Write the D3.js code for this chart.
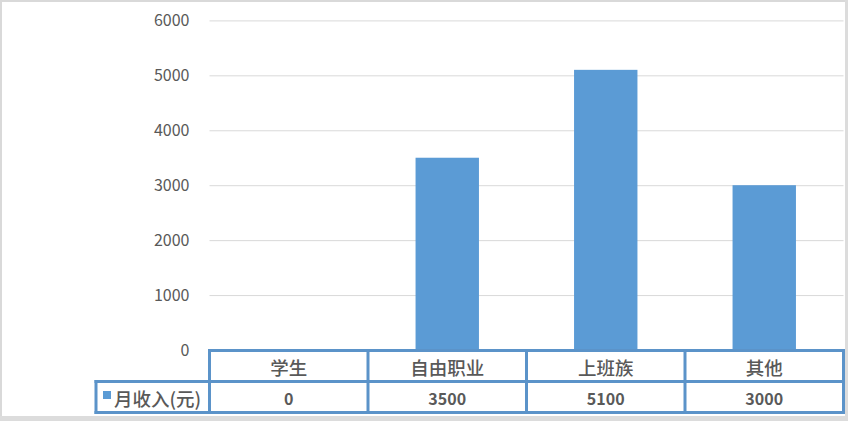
<!DOCTYPE html>
<html><head><meta charset="utf-8">
<script src="https://cdn.jsdelivr.net/npm/d3@7"></script>
<style>
html,body{margin:0;padding:0;background:#fff;overflow:hidden;}
svg{display:block;}
text{font-family:"Noto Sans CJK SC","Microsoft YaHei",sans-serif;fill:#595959;}
</style></head>
<body>
<svg id="chart" width="848" height="421"></svg>
<script>
const categories = ["学生", "自由职业", "上班族", "其他"];
const values = [0, 3500, 5100, 3000];
const seriesName = "月收入(元)";
const yTicks = [0, 1000, 2000, 3000, 4000, 5000, 6000];

(function () {
const W = 848, H = 421;
const svg = d3.select("#chart");
const blue = "#5b9bd5";
const border = "#5b93c9";

// outer frame
svg.append("rect").attr("x", 1).attr("y", 1).attr("width", W - 2).attr("height", H - 2)
  .attr("fill", "#fff").attr("stroke", "#d9d9d9").attr("stroke-width", 2);
svg.append("rect").attr("x", 0).attr("y", 416).attr("width", W).attr("height", 5).attr("fill", "#dcdcdc");
svg.append("rect").attr("x", 845).attr("y", 0).attr("width", 3).attr("height", H).attr("fill", "#dcdcdc");

const pl = 209.5, pr = 843.5, pt = 20.4, pb = 350;
const x = d3.scaleBand().domain(categories).range([pl, pr]).padding(0);
const y = d3.scaleLinear().domain([0, 6000]).range([pb, pt]);

// gridlines + y labels
const yAxis = d3.axisLeft(y).tickValues(yTicks).tickSize(-(pr - pl)).tickPadding(20).tickFormat(d3.format("d"));
const gy = svg.append("g").attr("transform", `translate(${pl},0)`).call(yAxis);
gy.select(".domain").remove();
gy.selectAll(".tick line").attr("stroke", "#d9d9d9").attr("stroke-width", 1);
gy.selectAll(".tick text").attr("x", -20).style("font-size", "16px").attr("fill", "#595959")
  .style("font-family", "'Noto Sans CJK SC', sans-serif");

// bars
const barW = x.bandwidth() * 0.4;
svg.append("g").selectAll("rect").data(categories).join("rect")
  .attr("x", (d) => x(d) + x.bandwidth() / 2 - barW / 2)
  .attr("width", barW)
  .attr("y", (d, i) => y(values[i]))
  .attr("height", (d, i) => y(0) - y(values[i]))
  .attr("fill", blue);

// data table
const rowH = 31;
const r1 = pb + 0.5, r2 = r1 + rowH, r3 = r2 + rowH;
const legLeft = 96;
const tbl = svg.append("g");
const line = (x1, y1, x2, y2) => tbl.append("line").attr("x1", x1).attr("y1", y1).attr("x2", x2).attr("y2", y2)
  .attr("stroke", border).attr("stroke-width", 3).attr("stroke-linecap", "square");
line(pl, r1, pr, r1);
line(legLeft, r2, pr, r2);
line(legLeft, r3, pr, r3);
line(legLeft, r2, legLeft, r3);
categories.forEach((c) => line(x(c), r1, x(c), r3));
line(pr, r1, pr, r3);

tbl.selectAll("text.cat").data(categories).join("text").attr("class", "cat")
  .attr("x", (d) => x(d) + x.bandwidth() / 2).attr("y", (r1 + r2) / 2 + 1)
  .attr("text-anchor", "middle").attr("dominant-baseline", "central")
  .style("font-size", "18.5px").style("font-weight", "500").text((d) => d);
tbl.selectAll("text.val").data(categories).join("text").attr("class", "val")
  .attr("x", (d) => x(d) + x.bandwidth() / 2).attr("y", (r2 + r3) / 2 + 1)
  .attr("text-anchor", "middle").attr("dominant-baseline", "central")
  .style("font-size", "16px").style("font-weight", "bold").text((d, i) => values[i]);

tbl.append("rect").attr("x", 103).attr("y", 391).attr("width", 8).attr("height", 8).attr("fill", blue);
tbl.append("text").attr("x", 114).attr("y", (r2 + r3) / 2 + 1).attr("dominant-baseline", "central")
  .style("font-size", "18.5px").style("font-weight", "500").text(seriesName);
})();
</script>
</body></html>
